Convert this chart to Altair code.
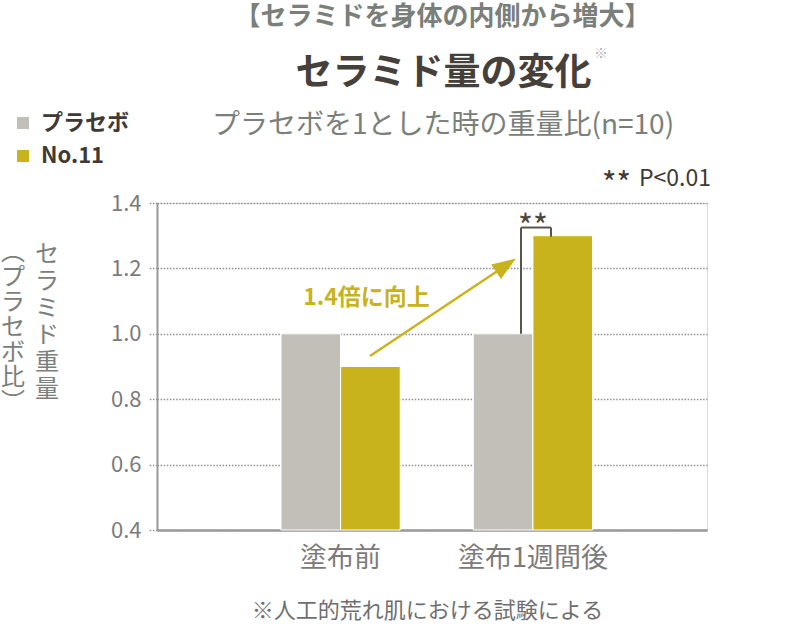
import altair as alt
import pandas as pd

FONT = "Noto Sans CJK JP"

# ---- data ----
stages = ["塗布前", "塗布1週間後"]
groups = ["プラセボ", "No.11"]
placebo_values = [1.0, 1.0]
no11_values = [0.9, 1.3]
colors = ["#c2bfb8", "#c8b31c"]
y_ticks = [0.4, 0.6, 0.8, 1.0, 1.2, 1.4]

# texts
top_title = "【セラミドを身体の内側から増大】"
main_title = "セラミド量の変化"
sub_title = "プラセボを1とした時の重量比(n=10)"
y_title_1 = "セラミド重量"
y_title_2 = "︵プラセボ比︶"
sig_stars = "**"
sig_p = "P<0.01"
sig_mark = "**"
arrow_label = "1.4倍に向上"
footnote = "※人工的荒れ肌における試験による"

rows = []
for i, s in enumerate(stages):
    rows.append({"stage": s, "group": groups[0], "value": placebo_values[i]})
    rows.append({"stage": s, "group": groups[1], "value": no11_values[i]})
df = pd.DataFrame(rows)

W, H = 550, 327
yscale = alt.Scale(domain=[0.4, 1.4], zero=False, nice=False)

bars = alt.Chart(df).mark_bar(stroke="white", strokeWidth=1).encode(
    x=alt.X("stage:N", sort=stages,
            scale=alt.Scale(domain=stages, paddingInner=0.38, paddingOuter=0.62, align=0.52),
            axis=alt.Axis(title=None, labelAngle=0, ticks=False, labelFontSize=27, labelFont=FONT,
                          labelColor="#7b7b7b", labelPadding=15, domainColor="#999999",
                          domainWidth=2.5)),
    xOffset=alt.XOffset("group:N", sort=groups, scale=alt.Scale(domain=groups, paddingInner=0)),
    y=alt.Y("value:Q", scale=yscale,
            axis=alt.Axis(title=None, values=y_ticks, format=".1f", grid=True,
                          gridDash=[1.5, 1.6], gridColor="#8f8f8f", gridWidth=1.5,
                          tickDash=[1.5, 1.6], tickColor="#8f8f8f", tickWidth=1.5, tickSize=9,
                          domainColor="#999999", domainWidth=2, labelFontSize=22,
                          labelFont=FONT, labelColor="#7b7b7b", labelPadding=7)),
    y2=alt.datum(0.4),
    color=alt.Color("group:N", sort=groups, scale=alt.Scale(domain=groups, range=colors),
                    legend=alt.Legend(title=None, orient="none", legendX=-145, legendY=-91,
                                      symbolType="square", symbolSize=144, symbolStrokeWidth=0,
                                      labelFontSize=22, labelFont=FONT, labelFontWeight="bold",
                                      labelColor="#3f3a35", labelOffset=7, rowPadding=11)),
)

one = pd.DataFrame({"k": [0]})


def txt(text, x, y, size, color, weight="normal", align="center", baseline="middle", **kw):
    return alt.Chart(one).mark_text(
        text=text, x=x, y=y, fontSize=size, color=color, fontWeight=weight,
        align=align, baseline=baseline, font=FONT, **kw
    ).encode(opacity=alt.value(1))


texts = [
    txt(top_title, 285.5, -186, 26, "#7a7f79", weight="bold"),
    txt(main_title, 286.5, -129.5, 37, "#45403a", weight="bold"),
    txt("※", 444, -149, 14, "#b0b0b0"),
    txt(sub_title, 286, -77, 28, "#7a7f79"),
    txt(sig_stars, 474, -17, 31, "#3f3a35", align="right"),
    txt(sig_p, 482, -24, 23, "#3f3a35", align="left"),
    txt(sig_mark, 376, 25, 32, "#4b4640"),
    txt(arrow_label, 209.5, 95, 23, "#c8b31c", weight="bold"),
    txt(footnote, 270.5, 408, 22, "#6f6f6f"),
    txt("\n".join(y_title_1), -110, 40, 24, "#7b807a", baseline="top", lineBreak="\n", lineHeight=27),
    txt("\n".join(y_title_2), -144, 38, 24, "#7b807a", baseline="top", lineBreak="\n", lineHeight=25),
]

# bracket (significance)
br_df = pd.DataFrame({"x": [364, 364, 394], "x2": [364, 394, 394],
                      "y": [1.0, 1.325, 1.325], "y2": [1.325, 1.325, 1.297]})
bracket = alt.Chart(br_df).mark_rule(color="#59544d", strokeWidth=2).encode(
    x=alt.X("x:Q", scale=None), x2="x2:Q",
    y=alt.Y("y:Q", scale=yscale), y2="y2:Q",
)

# arrow
ar_df = pd.DataFrame({"x": [213], "x2": [342], "y": [0.932], "y2": [1.195]})
arrow_line = alt.Chart(ar_df).mark_rule(color="#c8b31c", strokeWidth=2.5).encode(
    x=alt.X("x:Q", scale=None), x2="x2:Q",
    y=alt.Y("y:Q", scale=yscale), y2="y2:Q",
)
head_df = pd.DataFrame({"x": [349], "y": [1.21]})
arrow_head = alt.Chart(head_df).mark_point(
    shape="M0,-1L0.73,1L-0.73,1Z", filled=True, size=576, angle=56, color="#c8b31c", opacity=1
).encode(x=alt.X("x:Q", scale=None), y=alt.Y("y:Q", scale=yscale))

chart = alt.layer(bars, bracket, arrow_line, arrow_head, *texts).properties(
    width=W, height=H,
    autosize=alt.AutoSizeParams(type="none"),
    padding={"left": 157, "top": 203, "right": 93, "bottom": 98},
).configure_view(stroke=None).configure(background="white")

chart.save("out.html", embed_options={"renderer": "svg", "actions": False})
